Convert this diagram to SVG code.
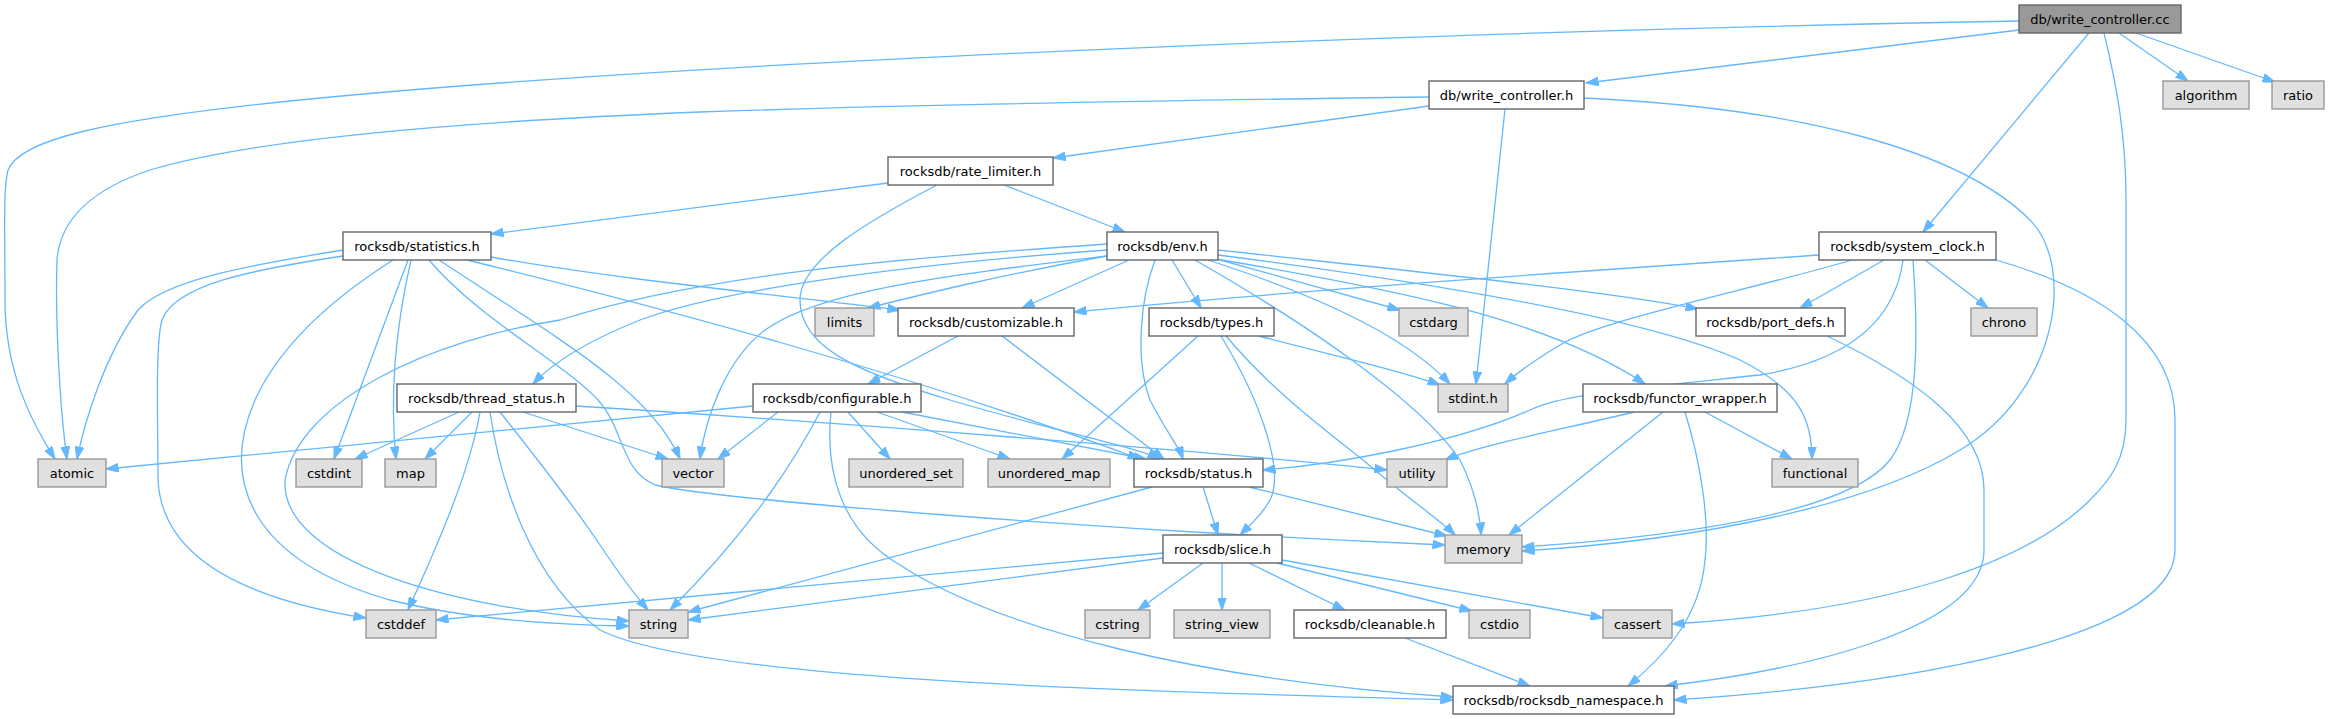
<svg xmlns="http://www.w3.org/2000/svg" width="2328" height="719" viewBox="0 0 2328 719">
<style>
rect{stroke-width:1.4}
.n rect{fill:#fff;stroke:#666}
.g rect{fill:#e0e0e0;stroke:#999}
.m rect{fill:#999;stroke:#666}
text{font-family:"DejaVu Sans",sans-serif;font-size:13px;text-anchor:middle;fill:#000}
#edges path{fill:none;stroke:#63b8ff;stroke-width:1.3;marker-end:url(#a)}
</style>
<defs>
<marker id="a" viewBox="0 0 13 9" refX="12.5" refY="4.5" markerWidth="13" markerHeight="9" markerUnits="userSpaceOnUse" orient="auto"><path d="M0,0 L13,4.5 L0,9 z" fill="#63b8ff" stroke="#63b8ff" stroke-width="0.8"/></marker>
</defs>
<rect width="2328" height="719" fill="#fff"/>
<g id="edges">
<path d="M2019,30 L1586,83"/>
<path d="M2019,21 C1500,30 700,60 300,100 C100,120 20,140 8,170 C3,190 5,230 5,300 C5,370 30,420 55,459"/>
<path d="M1429,97 C1200,100 900,105 700,112 C450,122 250,140 150,170 C90,190 60,220 57,260 C55,320 60,410 67,459"/>
<path d="M2089,33 L1923,232"/>
<path d="M2119,33 L2188,81"/>
<path d="M2136,33 L2275,82"/>
<path d="M2104,33 C2118,90 2126,140 2126,200 L2126,420 C2126,460 2110,480 2090,500 C2030,560 1900,610 1672,624"/>
<path d="M1429,106 L1053,158"/>
<path d="M1505,109 L1476,384"/>
<path d="M1584,98 C1800,108 1960,150 2030,220 C2075,265 2060,390 1960,450 C1870,505 1700,540 1522,551"/>
<path d="M888,183 L491,234"/>
<path d="M1004,185 L1125,232"/>
<path d="M937,185 C870,220 800,260 800,300 C800,345 850,370 950,400 C1050,430 1130,445 1160,459"/>
<path d="M343,250 C250,265 165,280 138,310 C105,355 85,420 77,459"/>
<path d="M343,256 C250,270 175,285 162,320 C155,345 158,420 158,480 C162,560 250,600 366,618"/>
<path d="M393,260 C330,300 280,345 255,400 C220,480 250,560 390,600 C470,620 560,625 629,626"/>
<path d="M1107,244 C900,258 700,275 560,320 C430,340 300,400 285,480 C280,560 450,610 629,621"/>
<path d="M408,260 L334,459"/>
<path d="M411,260 C395,330 390,400 396,459"/>
<path d="M429,260 C480,320 560,360 598,400 C625,430 620,470 655,485 C720,500 1100,530 1445,545"/>
<path d="M439,260 C560,340 650,390 680,459"/>
<path d="M467,260 C650,305 900,370 1140,459"/>
<path d="M491,257 C620,280 780,295 900,310"/>
<path d="M1107,250 C900,265 720,290 640,320 C590,340 555,360 533,384"/>
<path d="M1107,256 C1000,275 920,295 868,308"/>
<path d="M1107,256 C950,275 820,290 765,330 C725,360 705,420 700,459"/>
<path d="M1129,260 L1022,308"/>
<path d="M1155,260 C1140,300 1135,360 1150,400 C1165,430 1178,445 1183,459"/>
<path d="M1172,260 L1201,308"/>
<path d="M1195,260 C1300,320 1420,400 1460,460 C1475,490 1480,515 1481,535"/>
<path d="M1208,260 C1300,290 1400,330 1450,384"/>
<path d="M1213,258 L1400,310"/>
<path d="M1218,250 C1400,270 1600,290 1698,309"/>
<path d="M1218,255 C1450,285 1650,320 1740,360 C1800,390 1812,420 1812,459"/>
<path d="M1216,259 C1400,290 1550,320 1645,384"/>
<path d="M1819,255 C1600,270 1300,290 1074,312"/>
<path d="M1852,260 C1750,290 1600,320 1560,345 C1535,360 1520,370 1505,384"/>
<path d="M1884,260 L1800,308"/>
<path d="M1903,260 C1895,320 1850,360 1760,375 C1620,390 1560,395 1530,410 C1450,445 1330,465 1263,470"/>
<path d="M1913,260 C1918,330 1920,420 1890,460 C1850,510 1700,535 1522,547"/>
<path d="M1925,260 L1988,308"/>
<path d="M1996,260 C2100,290 2175,340 2175,420 L2175,550 C2175,640 1900,685 1674,700"/>
<path d="M958,336 L868,384"/>
<path d="M1002,336 L1164,459"/>
<path d="M1259,336 C1330,355 1400,370 1440,385"/>
<path d="M1198,336 L1062,459"/>
<path d="M1221,336 C1260,400 1285,470 1270,500 C1262,515 1250,525 1240,535"/>
<path d="M1226,336 C1280,400 1340,440 1375,470 C1410,500 1440,520 1455,535"/>
<path d="M753,406 L106,469"/>
<path d="M778,412 L718,459"/>
<path d="M820,412 C800,450 760,520 670,610"/>
<path d="M831,412 C825,470 840,530 900,565 C1000,630 1200,680 1453,697"/>
<path d="M848,412 L890,459"/>
<path d="M877,412 L1010,459"/>
<path d="M902,412 L1146,459"/>
<path d="M459,412 L355,459"/>
<path d="M472,412 L425,459"/>
<path d="M480,412 C470,470 440,540 408,610"/>
<path d="M500,412 C530,450 570,500 600,545 C620,575 635,595 648,610"/>
<path d="M490,412 C500,480 530,580 600,630 C700,680 1100,690 1453,700"/>
<path d="M523,412 L668,459"/>
<path d="M576,406 C800,420 1200,450 1387,470"/>
<path d="M1634,412 C1560,430 1480,445 1445,460"/>
<path d="M1663,412 L1509,535"/>
<path d="M1685,412 C1700,460 1710,520 1705,560 C1700,620 1660,660 1628,686"/>
<path d="M1705,412 L1792,459"/>
<path d="M1827,336 C1920,380 1984,430 1984,490 L1984,550 C1984,630 1800,670 1665,686"/>
<path d="M1203,487 L1218,535"/>
<path d="M1249,487 L1447,536"/>
<path d="M1152,487 L688,612"/>
<path d="M1163,553 L436,620"/>
<path d="M1163,558 L688,620"/>
<path d="M1203,563 L1138,610"/>
<path d="M1222,563 L1222,610"/>
<path d="M1249,563 L1345,610"/>
<path d="M1277,563 L1472,611"/>
<path d="M1282,560 L1603,618"/>
<path d="M1405,638 L1530,686"/>
</g>
<g id="n_wcc" class="m"><rect x="2019" y="5" width="162" height="28"/><text x="2100" y="24">db/write_controller.cc</text></g>
<g id="n_wch" class="n"><rect x="1429" y="81" width="155" height="28"/><text x="1506.5" y="100">db/write_controller.h</text></g>
<g id="n_algorithm" class="g"><rect x="2163" y="81" width="86" height="28"/><text x="2206" y="100">algorithm</text></g>
<g id="n_ratio" class="g"><rect x="2272" y="81" width="52" height="28"/><text x="2298" y="100">ratio</text></g>
<g id="n_rate_limiter" class="n"><rect x="888" y="157" width="165" height="28"/><text x="970.5" y="176">rocksdb/rate_limiter.h</text></g>
<g id="n_statistics" class="n"><rect x="343" y="232" width="148" height="28"/><text x="417" y="251">rocksdb/statistics.h</text></g>
<g id="n_env" class="n"><rect x="1107" y="232" width="111" height="28"/><text x="1162.5" y="251">rocksdb/env.h</text></g>
<g id="n_system_clock" class="n"><rect x="1819" y="232" width="177" height="28"/><text x="1907.5" y="251">rocksdb/system_clock.h</text></g>
<g id="n_limits" class="g"><rect x="815" y="308" width="59" height="28"/><text x="844.5" y="327">limits</text></g>
<g id="n_customizable" class="n"><rect x="898" y="308" width="176" height="28"/><text x="986" y="327">rocksdb/customizable.h</text></g>
<g id="n_types" class="n"><rect x="1149" y="308" width="125" height="28"/><text x="1211.5" y="327">rocksdb/types.h</text></g>
<g id="n_cstdarg" class="g"><rect x="1399" y="308" width="69" height="28"/><text x="1433.5" y="327">cstdarg</text></g>
<g id="n_port_defs" class="n"><rect x="1696" y="308" width="149" height="28"/><text x="1770.5" y="327">rocksdb/port_defs.h</text></g>
<g id="n_chrono" class="g"><rect x="1971" y="308" width="66" height="28"/><text x="2004" y="327">chrono</text></g>
<g id="n_thread_status" class="n"><rect x="397" y="384" width="179" height="28"/><text x="486.5" y="403">rocksdb/thread_status.h</text></g>
<g id="n_configurable" class="n"><rect x="753" y="384" width="168" height="28"/><text x="837" y="403">rocksdb/configurable.h</text></g>
<g id="n_stdint" class="g"><rect x="1438" y="384" width="70" height="28"/><text x="1473" y="403">stdint.h</text></g>
<g id="n_functor_wrapper" class="n"><rect x="1583" y="384" width="194" height="28"/><text x="1680" y="403">rocksdb/functor_wrapper.h</text></g>
<g id="n_atomic" class="g"><rect x="38" y="459" width="68" height="28"/><text x="72" y="478">atomic</text></g>
<g id="n_cstdint" class="g"><rect x="296" y="459" width="66" height="28"/><text x="329" y="478">cstdint</text></g>
<g id="n_map" class="g"><rect x="385" y="459" width="51" height="28"/><text x="410.5" y="478">map</text></g>
<g id="n_vector" class="g"><rect x="662" y="459" width="62" height="28"/><text x="693" y="478">vector</text></g>
<g id="n_unordered_set" class="g"><rect x="849" y="459" width="114" height="28"/><text x="906" y="478">unordered_set</text></g>
<g id="n_unordered_map" class="g"><rect x="988" y="459" width="122" height="28"/><text x="1049" y="478">unordered_map</text></g>
<g id="n_status" class="n"><rect x="1134" y="459" width="129" height="28"/><text x="1198.5" y="478">rocksdb/status.h</text></g>
<g id="n_utility" class="g"><rect x="1387" y="459" width="60" height="28"/><text x="1417" y="478">utility</text></g>
<g id="n_functional" class="g"><rect x="1772" y="459" width="86" height="28"/><text x="1815" y="478">functional</text></g>
<g id="n_slice" class="n"><rect x="1163" y="535" width="119" height="28"/><text x="1222.5" y="554">rocksdb/slice.h</text></g>
<g id="n_memory" class="g"><rect x="1445" y="535" width="77" height="28"/><text x="1483.5" y="554">memory</text></g>
<g id="n_cstddef" class="g"><rect x="366" y="610" width="70" height="28"/><text x="401" y="629">cstddef</text></g>
<g id="n_string" class="g"><rect x="629" y="610" width="59" height="28"/><text x="658.5" y="629">string</text></g>
<g id="n_cstring" class="g"><rect x="1085" y="610" width="65" height="28"/><text x="1117.5" y="629">cstring</text></g>
<g id="n_string_view" class="g"><rect x="1174" y="610" width="96" height="28"/><text x="1222" y="629">string_view</text></g>
<g id="n_cleanable" class="n"><rect x="1294" y="610" width="152" height="28"/><text x="1370" y="629">rocksdb/cleanable.h</text></g>
<g id="n_cstdio" class="g"><rect x="1469" y="610" width="61" height="28"/><text x="1499.5" y="629">cstdio</text></g>
<g id="n_cassert" class="g"><rect x="1603" y="610" width="69" height="28"/><text x="1637.5" y="629">cassert</text></g>
<g id="n_namespace" class="n"><rect x="1453" y="686" width="221" height="28"/><text x="1563.5" y="705">rocksdb/rocksdb_namespace.h</text></g>
</svg>
